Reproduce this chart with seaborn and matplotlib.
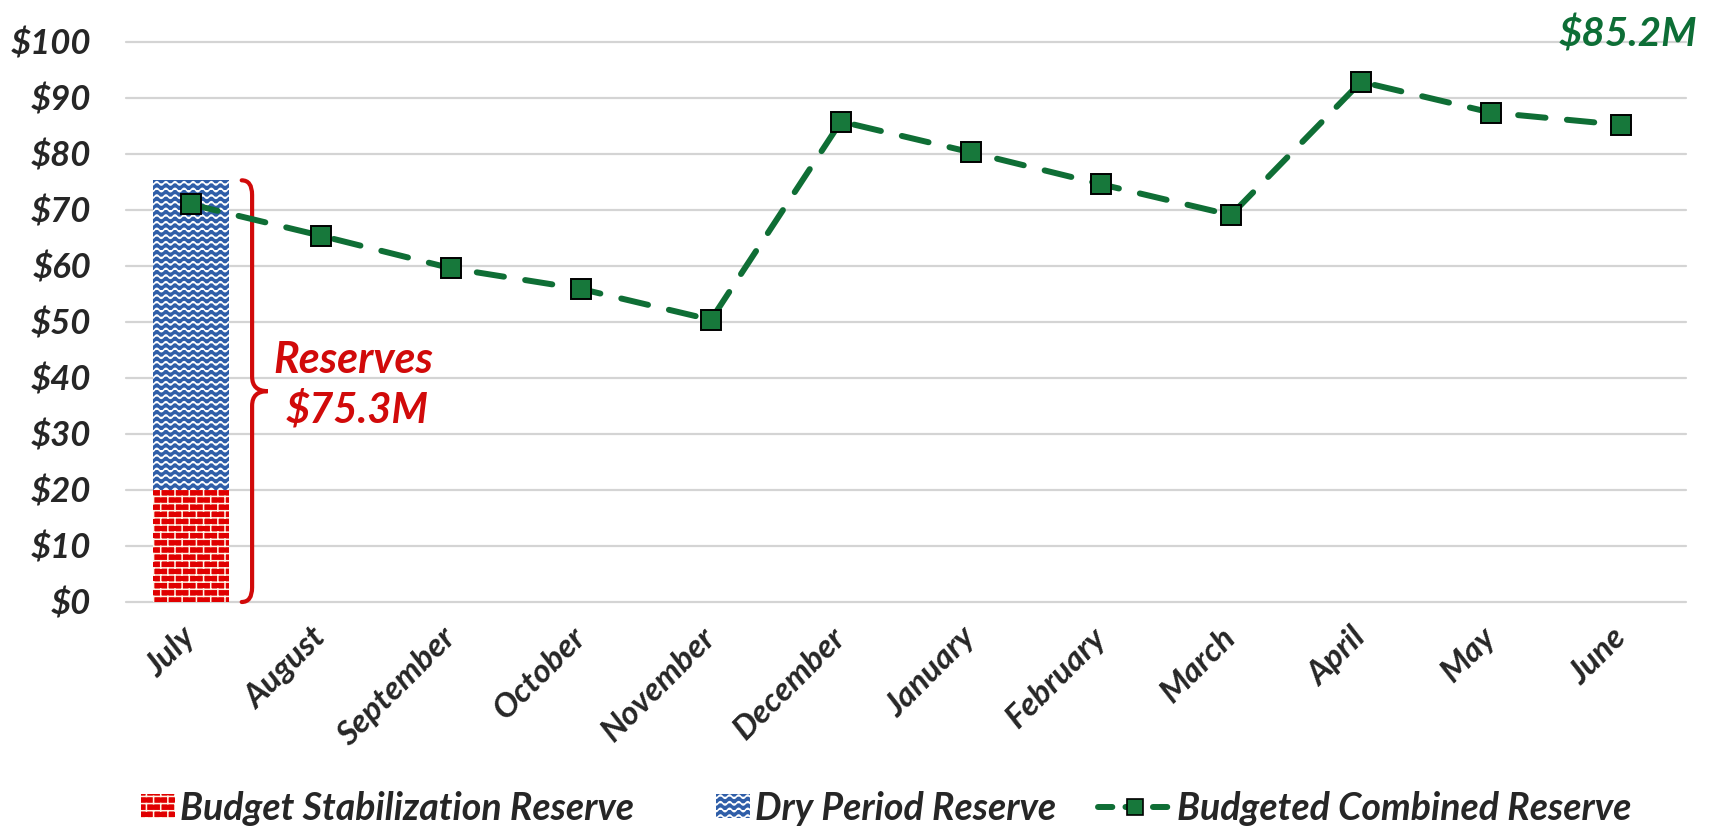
import numpy as np
import matplotlib
matplotlib.use("Agg")
import matplotlib.pyplot as plt
import matplotlib.hatch as mhatch
from matplotlib.path import Path
from matplotlib.patches import PathPatch, Patch, Rectangle
from matplotlib.lines import Line2D
from matplotlib.legend_handler import HandlerPatch
import seaborn as sns

# ---- data (values in $ millions) ----
months = ["July", "August", "September", "October", "November", "December",
          "January", "February", "March", "April", "May", "June"]
combined_reserve = [71.0, 65.4, 59.6, 55.9, 50.4, 85.8,
                    80.3, 74.6, 69.1, 92.9, 87.4, 85.2]
bar_months = ["July"]
budget_stabilization = [20.0]
dry_period = [55.3]
y_ticks = [0, 10, 20, 30, 40, 50, 60, 70, 80, 90, 100]

RED = "#e00000"
MORTAR = "#fff4e6"
BLUE = "#2f5ea8"
GREEN = "#0f6e35"
MARKER_GREEN = "#17783b"
TEXT_RED = "#d10a0a"
TEXT_GREEN = "#0d6e36"


# ---- custom fill textures: brick wall ('*') and waves ('O') ----
class BrickHatch(mhatch.HatchPatternBase):
    rows = 14
    cols = 7

    def __init__(self, hatch, density):
        on = "*" in hatch
        n_h = self.rows * 2
        n_v = (self.rows * self.cols + self.cols) * 2
        self.num_vertices = (n_h + n_v) if on else 0

    def set_vertices_and_codes(self, vertices, codes):
        verts = []
        rs, cs = 1.0 / self.rows, 1.0 / self.cols
        for r in range(self.rows):
            y = (r + 0.5) * rs
            verts += [(0.0, y), (1.0, y)]
        for r in range(self.rows):
            y0 = (r + 0.5) * rs
            y1 = min(y0 + rs, 1.0)
            off = 0.5 * cs * (r % 2)
            for c in range(self.cols):
                x = (c + 0.25) * cs + off
                verts += [(x, y0), (x, y1)]
        # wrap-around piece of the top row at the bottom of the tile
        off = 0.5 * cs * ((self.rows - 1) % 2)
        for c in range(self.cols):
            x = (c + 0.25) * cs + off
            verts += [(x, 0.0), (x, 0.5 * rs)]
        vertices[:] = np.array(verts)
        codes[0::2] = Path.MOVETO
        codes[1::2] = Path.LINETO


class WaveHatch(mhatch.HatchPatternBase):
    rows = 15
    waves = 11
    samples = 12
    amp = 0.017

    def __init__(self, hatch, density):
        n = self.waves * self.samples + 1
        self.num_vertices = self.rows * n if "O" in hatch else 0

    def set_vertices_and_codes(self, vertices, codes):
        n = self.waves * self.samples + 1
        x = np.linspace(0.0, 1.0, n)
        k = 0
        for r in range(self.rows):
            y = (r + 0.5) / self.rows + self.amp * np.sin(2 * np.pi * self.waves * x)
            vertices[k:k + n, 0] = x
            vertices[k:k + n, 1] = y
            codes[k] = Path.MOVETO
            codes[k + 1:k + n] = Path.LINETO
            k += n


mhatch._hatch_types = [mhatch.HorizontalHatch, mhatch.VerticalHatch,
                       mhatch.NorthEastHatch, mhatch.SouthEastHatch,
                       mhatch.SmallCircles, mhatch.SmallFilledCircles,
                       BrickHatch, WaveHatch]

# ---- style ----
sns.set_theme(style="white")
plt.rcParams["font.family"] = ["Lato", "DejaVu Sans"]
plt.rcParams["font.weight"] = "bold"
plt.rcParams["font.style"] = "italic"
plt.rcParams["hatch.linewidth"] = 1.1

fig, ax = plt.subplots(figsize=(17.32, 8.33), dpi=100)
fig.subplots_adjust(left=126 / 1732, right=1686 / 1732,
                    top=1 - 42 / 833, bottom=1 - 602 / 833)

# ---- stacked reserve bar (July) ----
totals = [b + d for b, d in zip(budget_stabilization, dry_period)]
sns.barplot(x=bar_months, y=totals, order=months, color=BLUE, saturation=1,
            width=0.58, hatch="O", edgecolor="white", linewidth=0, ax=ax, zorder=2)
sns.barplot(x=bar_months, y=budget_stabilization, order=months, color=RED,
            saturation=1, width=0.58, hatch="*", edgecolor=MORTAR, linewidth=0,
            ax=ax, zorder=2)

# ---- budgeted combined reserve line ----
sns.pointplot(x=months, y=combined_reserve, order=months, color=GREEN,
              errorbar=None, marker="s", linewidth=4.3, dashes=(4.6, 3.6),
              dash_capstyle="round", markersize=14, markerfacecolor=MARKER_GREEN,
              markeredgecolor="black", markeredgewidth=1.4, ax=ax, zorder=4)

# ---- axes styling ----
ax.set_ylim(0, 100)
ax.set_xlim(-0.5, len(months) - 0.5)
ax.set_yticks(y_ticks)
ax.set_yticklabels([f"${v}" for v in y_ticks])
ax.yaxis.grid(True, color="#d4d4d4", linewidth=1.6, zorder=0)
ax.xaxis.grid(False)
ax.set_axisbelow(True)
for gl in ax.get_ygridlines():
    gl.set_clip_on(False)
for sp in ax.spines.values():
    sp.set_visible(False)
ax.set_xlabel("")
ax.set_ylabel("")
ax.tick_params(axis="y", length=0, pad=25, labelsize=25)
ax.tick_params(axis="x", length=0, pad=22, labelsize=24)
for lab in ax.get_yticklabels():
    lab.set_fontweight("bold")
    lab.set_fontstyle("italic")
for lab in ax.get_xticklabels():
    lab.set_rotation(45)
    lab.set_ha("right")
    lab.set_va("center")
    lab.set_rotation_mode("anchor")
    lab.set_fontweight("bold")
    lab.set_fontstyle("italic")

# ---- brace spanning the July reserves ----
total = totals[0]
xs, xl, xt = 0.47, 0.39, 0.59
r = 2.6
mid = total / 2
verts = [(xl, 0), (xs, 0), (xs, r),
         (xs, mid - r), (xs, mid), (xt, mid),
         (xs, mid), (xs, mid + r),
         (xs, total - r), (xs, total), (xl, total)]
codes = [Path.MOVETO, Path.CURVE3, Path.CURVE3,
         Path.LINETO, Path.CURVE3, Path.CURVE3,
         Path.CURVE3, Path.CURVE3,
         Path.LINETO, Path.CURVE3, Path.CURVE3]
ax.add_patch(PathPatch(Path(verts, codes), facecolor="none", edgecolor=TEXT_RED,
                       linewidth=3.0, capstyle="round", zorder=3, clip_on=False))

ax.text(1.25, mid + 5.6, "Reserves", color=TEXT_RED, fontsize=31,
        fontweight="bold", fontstyle="italic", ha="center", va="center")
ax.text(1.28, mid - 3.3, f"${total:.1f}M", color=TEXT_RED, fontsize=30,
        fontweight="bold", fontstyle="italic", ha="center", va="center")

# ---- final value callout ----
ax.text(len(months) - 1 + 0.05, 101.4, f"${combined_reserve[-1]:.1f}M",
        color=TEXT_GREEN, fontsize=29, fontweight="bold", fontstyle="italic",
        ha="center", va="center", clip_on=False)


# ---- legend ----
def narrow_patch(legend, orig_handle, xdescent, ydescent, width, height, fontsize):
    w = height * 1.45
    return Rectangle((width - w - xdescent, -ydescent), w, height)


handles = [
    Patch(facecolor=RED, edgecolor=MORTAR, hatch="*", linewidth=0),
    Patch(facecolor=BLUE, edgecolor="white", hatch="O", linewidth=0),
    Line2D([], [], color=GREEN, linewidth=4.3, dashes=(2.4, 2.2),
           dash_capstyle="round", marker="s", markersize=11,
           markerfacecolor=MARKER_GREEN, markeredgecolor="black",
           markeredgewidth=1.2),
]
labels = ["Budget Stabilization Reserve", "Dry Period Reserve",
          "Budgeted Combined Reserve"]
fig.legend(handles, labels, loc="center", bbox_to_anchor=(0.5, 1 - 808 / 833),
           ncol=3, frameon=False, handlelength=2.0, handleheight=0.6,
           handletextpad=0.13, columnspacing=1.1, numpoints=1,
           prop={"weight": "bold", "style": "italic", "size": 27},
           handler_map={Patch: HandlerPatch(patch_func=narrow_patch)})

fig.savefig("out.png", dpi=100, facecolor="white")
